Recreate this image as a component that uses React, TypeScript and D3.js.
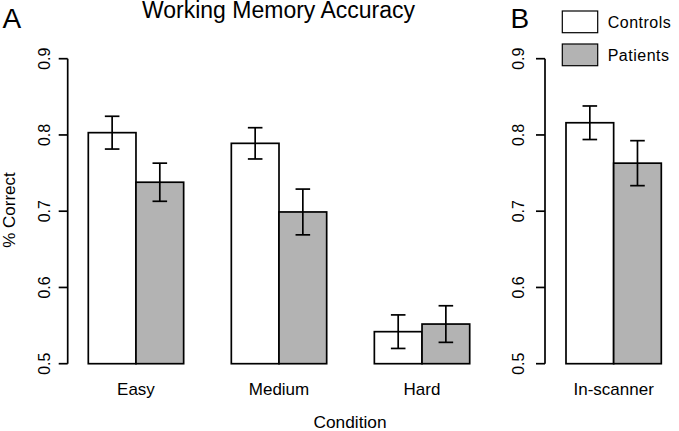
import React from "react";
import * as d3 from "d3";

const categories = ["Easy", "Medium", "Hard"];
const controlsMean = [0.803, 0.789, 0.542];
const controlsErr = [0.0215, 0.0205, 0.022];
const patientsMean = [0.738, 0.699, 0.552];
const patientsErr = [0.025, 0.030, 0.024];

const scannerCategory = ["In-scanner"];
const scannerControlsMean = [0.816];
const scannerControlsErr = [0.022];
const scannerPatientsMean = [0.763];
const scannerPatientsErr = [0.0295];

const yTicks = [0.5, 0.6, 0.7, 0.8, 0.9];
const legendLabels = ["Controls", "Patients"];

const FONT = "'Liberation Sans', Arial, Helvetica, sans-serif";
const GREY = "#b3b3b3";
const SW = 1.7;

const y = d3.scaleLinear().domain([0.5, 0.9]).range([363.7, 58.7]);

function YAxis({ x, labelX }: { x: number; labelX: number }) {
  return (
    <g>
      <line x1={x} x2={x} y1={y(0.5)} y2={y(0.9)} stroke="#000" strokeWidth={SW} />
      {yTicks.map((t) => (
        <g key={t}>
          <line x1={x - 9} x2={x} y1={y(t)} y2={y(t)} stroke="#000" strokeWidth={SW} />
          <text
            transform={`translate(${labelX},${y(t)}) rotate(-90)`}
            textAnchor="middle"
            fontSize={16}
            fontFamily={FONT}
          >
            {t.toFixed(1)}
          </text>
        </g>
      ))}
    </g>
  );
}

function Bars({
  x,
  cats,
  cMean,
  cErr,
  pMean,
  pErr,
}: {
  x: d3.ScaleLinear<number, number>;
  cats: string[];
  cMean: number[];
  cErr: number[];
  pMean: number[];
  pErr: number[];
}) {
  const capHalf = 7.3;
  return (
    <g>
      {cats.map((c, i) => {
        const uC = 1 + 3 * i;
        const uP = 2 + 3 * i;
        const items = [
          { u: uC, m: cMean[i], e: cErr[i], fill: "#fff" },
          { u: uP, m: pMean[i], e: pErr[i], fill: GREY },
        ];
        return (
          <g key={c}>
            {items.map((it, j) => {
              const x0 = x(it.u);
              const x1 = x(it.u + 1);
              const cx = (x0 + x1) / 2;
              return (
                <g key={j}>
                  <rect
                    x={x0}
                    y={y(it.m)}
                    width={x1 - x0}
                    height={y(0.5) - y(it.m)}
                    fill={it.fill}
                    stroke="#000"
                    strokeWidth={SW}
                  />
                  <line x1={cx} x2={cx} y1={y(it.m + it.e)} y2={y(it.m - it.e)} stroke="#000" strokeWidth={SW} />
                  <line x1={cx - capHalf} x2={cx + capHalf} y1={y(it.m + it.e)} y2={y(it.m + it.e)} stroke="#000" strokeWidth={SW} />
                  <line x1={cx - capHalf} x2={cx + capHalf} y1={y(it.m - it.e)} y2={y(it.m - it.e)} stroke="#000" strokeWidth={SW} />
                </g>
              );
            })}
            <text x={x(uP)} y={395} textAnchor="middle" fontSize={17} fontFamily={FONT}>
              {c}
            </text>
          </g>
        );
      })}
    </g>
  );
}

export default function App() {
  const xA = d3.scaleLinear().domain([1, 9]).range([88.3, 469.7]);
  const xB = d3.scaleLinear().domain([1, 3]).range([566, 661.3]);
  return (
    <svg
      width={679}
      height={431}
      style={{ position: "absolute", left: 0, top: 0, background: "#fff" }}
    >
      <rect x={0} y={0} width={679} height={431} fill="#fff" />
      <text x={2.5} y={27.5} fontSize={28} fontFamily={FONT}>A</text>
      <text x={510.5} y={27.5} fontSize={28} fontFamily={FONT}>B</text>
      <text x={278.5} y={18} textAnchor="middle" fontSize={23} fontFamily={FONT}>
        Working Memory Accuracy
      </text>

      <YAxis x={67.7} labelX={50} />
      <Bars x={xA} cats={categories} cMean={controlsMean} cErr={controlsErr} pMean={patientsMean} pErr={patientsErr} />

      <YAxis x={545} labelX={524.3} />
      <Bars
        x={xB}
        cats={scannerCategory}
        cMean={scannerControlsMean}
        cErr={scannerControlsErr}
        pMean={scannerPatientsMean}
        pErr={scannerPatientsErr}
      />

      <text transform={`translate(15,210) rotate(-90)`} textAnchor="middle" fontSize={17} fontFamily={FONT}>
        % Correct
      </text>
      <text x={350} y={428} textAnchor="middle" fontSize={17.3} fontFamily={FONT}>
        Condition
      </text>

      {legendLabels.map((l, i) => (
        <g key={l}>
          <rect
            x={562.3}
            y={11 + i * 33}
            width={35.4}
            height={21.7}
            fill={i === 0 ? "#fff" : GREY}
            stroke="#000"
            strokeWidth={1.2}
          />
          <text x={607.7} y={22 + i * 33} dominantBaseline="central" fontSize={16} letterSpacing={0.5} fontFamily={FONT}>
            {l}
          </text>
        </g>
      ))}
    </svg>
  );
}
